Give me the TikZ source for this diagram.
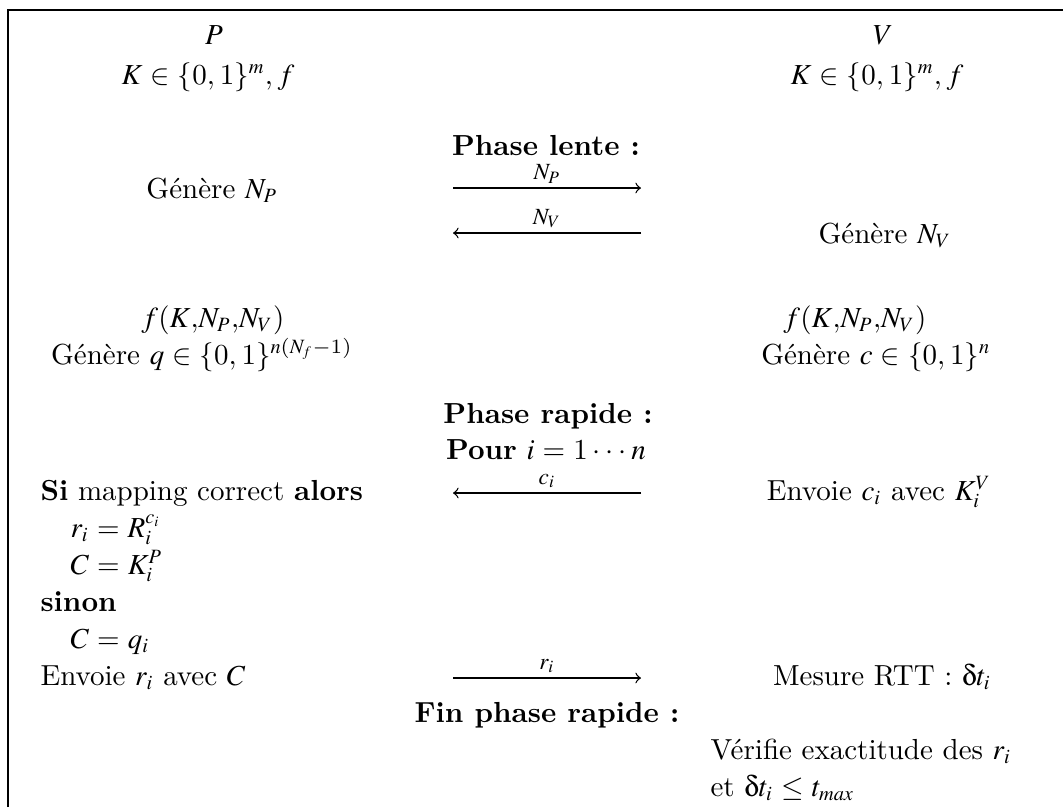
\documentclass[tikz,border=0pt]{standalone}
\DeclareSymbolFont{letters}{OML}{ptmcm}{m}{it}
\DeclareSymbolFontAlphabet{\mathnormal}{letters}
\begin{document}
\begin{tikzpicture}[x=0.3448pt,y=-0.3448pt,
  txt/.style={anchor=base,inner sep=0pt},
  ltxt/.style={anchor=base west,inner sep=0pt},
  msg/.style={->,line width=0.45pt},
  lbl/.style={above,inner sep=1.5pt,font=\footnotesize}]
\useasboundingbox (0,0) rectangle (1063,807);
\draw[line width=1pt] (8,807) -- (8,10) -- (1063,10);
% headers
\node[txt] (p) at (214,44) {$P$};
\node[txt] (v) at (883,44) {$V$};
\node[txt] (kp) at (208,84) {$K\in\{0,1\}^m,f$};
\node[txt] (kv) at (877,84) {$K\in\{0,1\}^m,f$};
% slow phase
\node[txt] (lente) at (546,155) {\textbf{Phase lente :}};
\node[txt] (gnp) at (212,198) {Génère $N_P$};
\node[txt] (gnv) at (885,243) {Génère $N_V$};
\coordinate (a1l) at (453,188);
\coordinate (a1r) at (641,188);
\coordinate (a2l) at (453,233);
\coordinate (a2r) at (641,233);
\draw[msg] (a1l) -- node[lbl] {$N_P$} (a1r);
\draw[msg] (a2r) -- node[lbl] {$N_V$} (a2l);
\node[txt] (fp) at (213,327) {$f(K{,}N_P{,}N_V)$};
\node[txt] (fv) at (855,327) {$f(K{,}N_P{,}N_V)$};
\node[txt] (gq) at (202,364) {Génère $q\in\{0,1\}^{n(N_f-1)}$};
\node[txt] (gc) at (876,364) {Génère $c\in\{0,1\}^n$};
% fast phase
\node[txt] (rapide) at (548,423) {\textbf{Phase rapide :}};
\node[txt] (pour) at (546,459) {\textbf{Pour} $i=1\cdots n$};
\coordinate (a3l) at (453,493);
\coordinate (a3r) at (641,493);
\draw[msg] (a3r) -- node[lbl] {$c_i$} (a3l);
\node[ltxt] (si) at (40,500) {\textbf{Si} mapping correct \textbf{alors}};
\node[txt] (envc) at (879,500) {Envoie $c_i$ avec $K_i^V$};
\node[ltxt] (ri) at (70,537) {$r_i=R_i^{c_i}$};
\node[ltxt] (ck) at (70,574) {$C=K_i^P$};
\node[ltxt] (sinon) at (40,611) {\textbf{sinon}};
\node[ltxt] (cq) at (70,648) {$C=q_i$};
\node[ltxt] (envr) at (40,685) {Envoie $r_i$ avec $C$};
\coordinate (a4l) at (453,678);
\coordinate (a4r) at (641,678);
\draw[msg] (a4l) -- node[lbl] {$r_i$} (a4r);
\node[txt] (rtt) at (882,685) {Mesure RTT : $\delta t_i$};
\node[txt] (fin) at (547,722) {\textbf{Fin phase rapide :}};
\node[ltxt] (verif) at (710,759) {Vérifie exactitude des $r_i$};
\node[ltxt] (et) at (710,796) {et $\delta t_i\le t_{max}$};
\end{tikzpicture}
\end{document}
